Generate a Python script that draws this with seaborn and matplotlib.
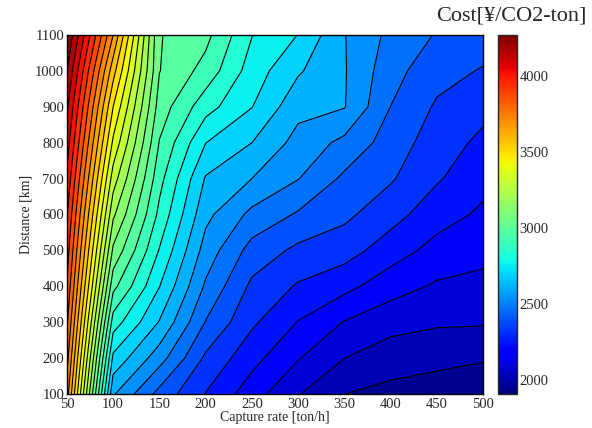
import numpy as np
import matplotlib
matplotlib.use("Agg")
import matplotlib.pyplot as plt
import seaborn as sns
from matplotlib.colors import Normalize
from matplotlib.cm import ScalarMappable

# grid of the cost map
capture_rate = [50, 100, 150, 200, 250, 300, 350, 400, 450, 500]   # ton/h
distance = [100, 200, 300, 400, 500, 600, 700, 800, 900, 1000, 1100]  # km

# cost [yen / CO2-ton], one row per distance, one column per capture rate
cost = [
    [3716, 2580, 2399, 2274, 2163, 2060, 1982, 1960, 1934, 1908],
    [3783, 2701, 2530, 2337, 2228, 2134, 2056, 2017, 2009, 1991],
    [3842, 2831, 2641, 2421, 2290, 2200, 2126, 2082, 2064, 2063],
    [3893, 2963, 2722, 2487, 2335, 2269, 2225, 2161, 2120, 2109],
    [3938, 3074, 2789, 2541, 2396, 2334, 2309, 2239, 2177, 2151],
    [3982, 3177, 2848, 2592, 2479, 2416, 2367, 2305, 2235, 2190],
    [4033, 3273, 2892, 2639, 2572, 2501, 2410, 2359, 2285, 2226],
    [4085, 3369, 2937, 2721, 2646, 2546, 2479, 2391, 2313, 2260],
    [4137, 3458, 2981, 2823, 2722, 2595, 2576, 2424, 2341, 2299],
    [4196, 3561, 3017, 2914, 2759, 2655, 2578, 2452, 2377, 2345],
    [4269, 3679, 3019, 2963, 2796, 2718, 2575, 2479, 2419, 2389],
]
cbar_ticks = [2000, 2500, 3000, 3500, 4000]

sns.set_style("white")
plt.rcParams['font.family'] = ['Liberation Serif', 'DejaVu Serif']
plt.rcParams['xtick.direction'] = 'in'
plt.rcParams['ytick.direction'] = 'in'

fig = plt.figure(figsize=(5.92, 4.28), dpi=100)
ax = fig.add_axes([0.113, 0.0794, 0.703, 0.839])

X, Y = np.meshgrid(capture_rate, distance)
Z = np.array(cost, dtype=float)
levels = np.linspace(Z.min(), Z.max(), 33)
norm = Normalize(Z.min(), Z.max())

ax.contourf(X, Y, Z, levels=levels, cmap='jet', norm=norm, extend='both')
ax.contour(X, Y, Z, levels=levels[1:-1], colors='k', linewidths=0.8)

ax.set_xlim(50, 500)
ax.set_ylim(100, 1100)
ax.set_xticks(capture_rate)
ax.set_yticks(distance)
ax.tick_params(axis='both', labelsize=10.5, length=4, width=0.6,
               top=True, right=True)
ax.tick_params(axis='x', pad=3)
ax.tick_params(axis='y', pad=2)
ax.set_xlabel('Capture rate [ton/h]', fontsize=10, labelpad=0)
ax.set_ylabel('Distance [km]', fontsize=10, labelpad=2)
for s in ax.spines.values():
    s.set_linewidth(1.0)
    s.set_color('black')

# colour bar
cax = fig.add_axes([0.842, 0.0794, 0.031, 0.839])
cb = fig.colorbar(ScalarMappable(norm=norm, cmap='jet'), cax=cax)
cb.set_ticks(cbar_ticks)
cb.ax.tick_params(labelsize=10.5, length=4, width=0.6, direction='in', pad=2)
cb.outline.set_linewidth(1.0)
fig.text(0.99, 0.962, 'Cost[¥/CO2-ton]', ha='right', va='center', fontsize=16)

plt.savefig('out.png', dpi=100)
